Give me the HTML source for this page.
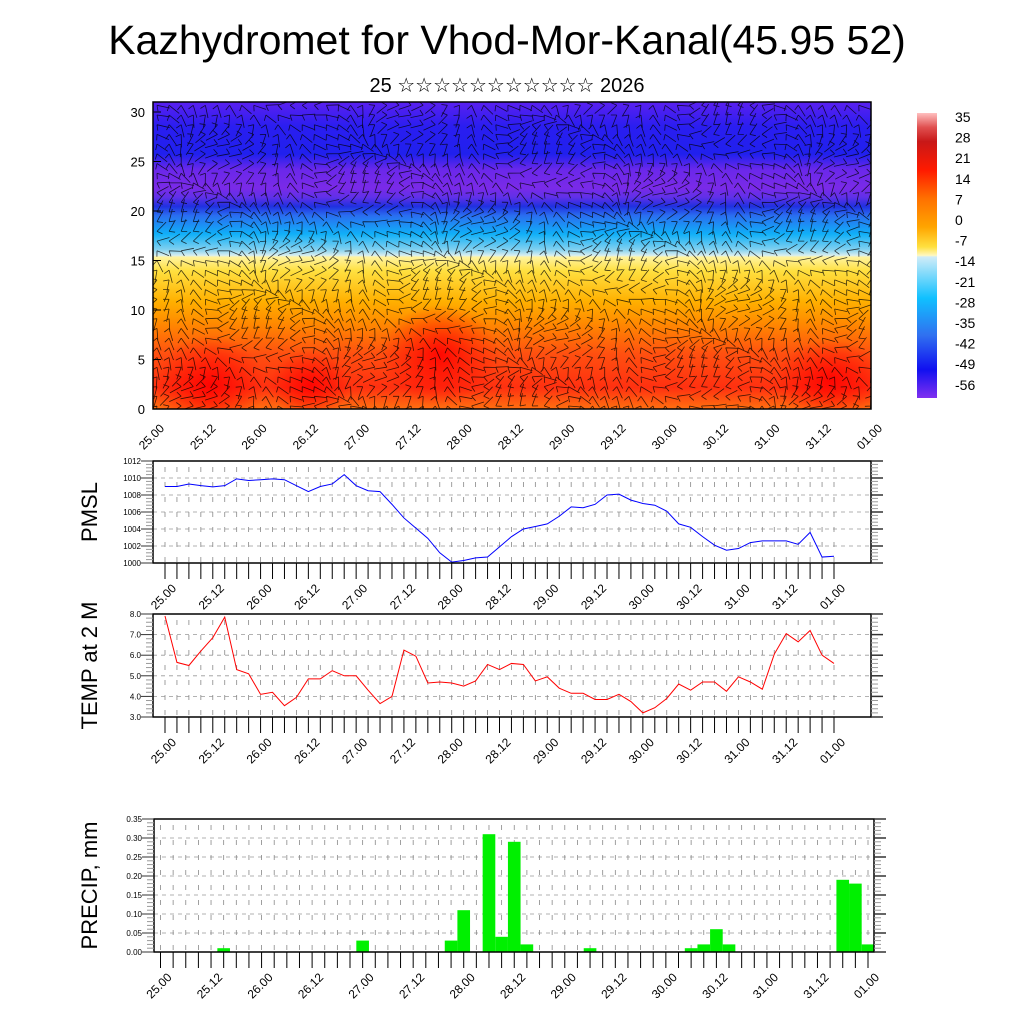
<!DOCTYPE html>
<html><head><meta charset="utf-8">
<style>
html,body{margin:0;padding:0;background:#fff;}
svg{display:block;font-family:"Liberation Sans","DejaVu Sans",sans-serif;}
</style></head>
<body>
<svg id="chart" width="1024" height="1024" viewBox="0 0 1024 1024" xmlns="http://www.w3.org/2000/svg">
<defs>
<linearGradient id="tgrad" x1="0" y1="0" x2="0" y2="1">
<stop offset="0" stop-color="#5a20f0"/>
<stop offset="0.08" stop-color="#2a1ef0"/>
<stop offset="0.17" stop-color="#2020ee"/>
<stop offset="0.22" stop-color="#6a28ea"/>
<stop offset="0.28" stop-color="#7a2ae8"/>
<stop offset="0.31" stop-color="#6030e8"/>
<stop offset="0.34" stop-color="#2030e0"/>
<stop offset="0.37" stop-color="#2a6ef0"/>
<stop offset="0.43" stop-color="#10b0f8"/>
<stop offset="0.48" stop-color="#80d0f0"/>
<stop offset="0.5" stop-color="#d8eef0"/>
<stop offset="0.505" stop-color="#fff4a0"/>
<stop offset="0.55" stop-color="#ffe040"/>
<stop offset="0.65" stop-color="#ffb000"/>
<stop offset="0.72" stop-color="#ff8a00"/>
<stop offset="0.82" stop-color="#ff5010"/>
<stop offset="0.93" stop-color="#ff3010"/>
<stop offset="1" stop-color="#ff7010"/>
</linearGradient>
<linearGradient id="cbgrad" x1="0" y1="0" x2="0" y2="1">
<stop offset="0" stop-color="#ffc0c0"/>
<stop offset="0.05" stop-color="#e05050"/>
<stop offset="0.1" stop-color="#c81818"/>
<stop offset="0.2" stop-color="#ff1a00"/>
<stop offset="0.3" stop-color="#ff7000"/>
<stop offset="0.4" stop-color="#ffa500"/>
<stop offset="0.47" stop-color="#ffe040"/>
<stop offset="0.5" stop-color="#fff8c0"/>
<stop offset="0.505" stop-color="#d0ecf8"/>
<stop offset="0.65" stop-color="#10c0ff"/>
<stop offset="0.78" stop-color="#3070f0"/>
<stop offset="0.9" stop-color="#1010f0"/>
<stop offset="1" stop-color="#8030f0"/>
</linearGradient>
<radialGradient id="hot"><stop offset="0" stop-color="#ff0000" stop-opacity="0.9"/><stop offset="1" stop-color="#ff0000" stop-opacity="0"/></radialGradient>
<clipPath id="topclip"><rect x="153" y="102" width="718" height="307"/></clipPath>
</defs>
<text x="507" y="54" font-size="41" text-anchor="middle">Kazhydromet for Vhod-Mor-Kanal(45.95 52)</text>
<text x="507" y="92" font-size="20" text-anchor="middle">25 ☆☆☆☆☆☆☆☆☆☆☆ 2026</text>
<g id="topPanel"></g>
<g id="cb"></g>
<g id="pmsl"></g>
<g id="temp"></g>
<g id="precip"></g>
</svg>
<script>
const NS="http://www.w3.org/2000/svg";
const tickLabels=["25.00","25.12","26.00","26.12","27.00","27.12","28.00","28.12","29.00","29.12","30.00","30.12","31.00","31.12","01.00"];
const pmslValues=[1009.0,1009.0,1009.3,1009.1,1008.95,1009.1,1009.9,1009.7,1009.8,1009.9,1009.8,1009.1,1008.4,1009.0,1009.3,1010.4,1009.1,1008.5,1008.4,1006.9,1005.3,1004.1,1002.9,1001.2,1000.1,1000.3,1000.6,1000.7,1001.9,1003.1,1004.0,1004.3,1004.6,1005.5,1006.6,1006.5,1006.9,1008.0,1008.1,1007.4,1007.0,1006.8,1006.1,1004.6,1004.2,1003.1,1002.1,1001.5,1001.7,1002.4,1002.6,1002.6,1002.6,1002.2,1003.6,1000.7,1000.8];
const tempValues=[7.9,5.65,5.5,6.2,6.85,7.85,5.3,5.1,4.1,4.2,3.55,3.95,4.85,4.85,5.25,5.0,5.0,4.3,3.65,4.0,6.25,5.95,4.65,4.7,4.65,4.5,4.75,5.55,5.3,5.6,5.55,4.75,4.95,4.4,4.15,4.15,3.85,3.85,4.1,3.75,3.2,3.45,3.9,4.6,4.3,4.7,4.7,4.25,4.95,4.7,4.35,6.05,7.05,6.65,7.2,6.0,5.6];
const precipValues=[0,0,0,0,0,0.01,0,0,0,0,0,0,0,0,0,0,0.03,0,0,0,0,0,0,0.03,0.11,0,0.31,0.04,0.29,0.02,0,0,0,0,0.01,0,0,0,0,0,0,0,0.01,0.02,0.06,0.02,0,0,0,0,0,0,0,0,0.19,0.18,0.02];
const pmslTicks=[1000,1002,1004,1006,1008,1010,1012];
const tempTicks=[3,4,5,6,7,8];
const precipTicks=[0,0.05,0.10,0.15,0.20,0.25,0.30,0.35];
const heightTicks=[0,5,10,15,20,25,30];
const cbLabels=["35","28","21","14","7","0","-7","-14","-21","-28","-35","-42","-49","-56"];

function el(tag,attrs,parent){const e=document.createElementNS(NS,tag);for(const k in attrs)e.setAttribute(k,attrs[k]);if(parent)parent.appendChild(e);return e;}

/* ---- top cross-section ---- */
const topG=document.getElementById('topPanel');
const T={l:153,r:871,t:102,b:409};
const hy=v=>409-v*9.9;
let bg=el('rect',{x:T.l,y:T.t,width:T.r-T.l,height:T.b-T.t,fill:'url(#tgrad)'},topG);


const cg=el('g',{'clip-path':'url(#topclip)'},topG);
[[210,385,55,50],[310,385,40,35],[440,355,60,50],[830,380,55,40]].forEach(b=>{el('ellipse',{cx:b[0],cy:b[1],rx:b[2],ry:b[3],fill:'url(#hot)'},cg);});
let d="";
for(let i=0;i<60;i++){for(let j=0;j<32;j++){
 const x=T.l+4+i*12.1, y=T.b-3-j*9.7;
 const a=Math.sin(i*0.37+j*0.21)*1.3+Math.cos(j*0.5-i*0.11)*0.9+0.8;
 const L=13;
 d+=`M${x.toFixed(1)} ${y.toFixed(1)}l${(L*Math.cos(a)).toFixed(1)} ${(L*Math.sin(a)).toFixed(1)}`;
 const b=a+1.2; d+=`M${x.toFixed(1)} ${y.toFixed(1)}l${(6*Math.cos(b)).toFixed(1)} ${(6*Math.sin(b)).toFixed(1)}`;
}}
let wp=el('path',{d:d,stroke:'#000','stroke-width':0.8,'stroke-opacity':0.75,fill:'none'},cg);


el('rect',{x:T.l,y:T.t,width:T.r-T.l,height:T.b-T.t,fill:'none',stroke:'#000','stroke-width':1.5},topG);
heightTicks.forEach(v=>{
 el('line',{x1:T.l,x2:T.l+8,y1:hy(v),y2:hy(v),stroke:'#000'},topG);
 const t=el('text',{x:T.l-8,y:hy(v)+5,'font-size':13,'text-anchor':'end'},topG);t.textContent=v;
 
 
});
tickLabels.forEach((s,k)=>{
 const x=T.l+k*(T.r-T.l)/14;
 const t=el('text',{x:0,y:0,'font-size':12,'text-anchor':'end',transform:`translate(${x+12},${T.b+20}) rotate(-45)`},topG);t.textContent=s;
 
 
});

/* ---- colorbar ---- */
const cb=document.getElementById('cb');
el('rect',{x:917,y:113,width:20,height:285,fill:'url(#cbgrad)'},cb);
cbLabels.forEach((s,k)=>{const t=el('text',{x:955,y:122+k*20.6,'font-size':14},cb);t.textContent=s;
 
 });

/* ---- line/bar panels ---- */
function panel(g,P,ticks,title,titleX){
 const n=57, xs=i=>P.x0+i*(P.x1-P.x0)/(n-1), ys=v=>P.b-(v-P.min)/(P.max-P.min)*(P.b-P.t);
 ticks.forEach(v=>{el('line',{x1:P.l,x2:P.r,y1:ys(v),y2:ys(v),stroke:'#999','stroke-dasharray':'4,4','stroke-width':0.8},g);});
 for(let i=0;i<n;i++){el('line',{x1:xs(i),x2:xs(i),y1:P.t+6,y2:P.b,stroke:'#888','stroke-dasharray':'5,10','stroke-width':0.8},g);}
 const yt=el('text',{x:0,y:0,'font-size':22,'text-anchor':'middle',transform:`translate(${titleX},${(P.t+P.b)/2}) rotate(-90)`},g);yt.textContent=title;
 
 
 return {xs,ys};
}
function frame(g,P,ticks,fmt){
 const ys=v=>P.b-(v-P.min)/(P.max-P.min)*(P.b-P.t);
 el('rect',{x:P.l,y:P.t,width:P.r-P.l,height:P.b-P.t,fill:'none',stroke:'#000','stroke-width':1.5},g);
 const major=ticks[1]-ticks[0], step=major/5;
 for(let k=0;k<=Math.round((P.max-P.min)/step);k++){const v=P.min+k*step;const maj=(k%5===0);
  el('line',{x1:P.l-(maj?12:7),x2:P.l,y1:ys(v),y2:ys(v),stroke:maj?'#333':'#999'},g);
  el('line',{x1:P.r,x2:P.r+(maj?12:7),y1:ys(v),y2:ys(v),stroke:maj?'#333':'#999','stroke-width':maj?1.5:1},g);}
 ticks.forEach(v=>{const t=el('text',{x:P.l-12,y:ys(v)+3,'font-size':8,'text-anchor':'end'},g);t.textContent=fmt(v);
  
  });
 const n=57;
 for(let i=0;i<n;i++){const x=P.x0+i*(P.x1-P.x0)/(n-1);el('line',{x1:x,x2:x,y1:P.b,y2:P.b+16,stroke:'#000'},g);}
 tickLabels.forEach((s,k)=>{const x=P.x0+k*4*(P.x1-P.x0)/(n-1);
  const t=el('text',{x:0,y:0,'font-size':12,'text-anchor':'end',transform:`translate(${x+12},${P.b+26}) rotate(-45)`},g);t.textContent=s;
  
  });
}
// PMSL
const gp=document.getElementById('pmsl');
const PP={l:153,r:871,t:461,b:563,x0:165,x1:834,min:1000,max:1012};
let ax=panel(gp,PP,pmslTicks,'PMSL',97);
let pl=el('polyline',{points:pmslValues.map((v,i)=>ax.xs(i)+','+ax.ys(v)).join(' '),fill:'none',stroke:'#0000ff','stroke-width':1},gp);


frame(gp,PP,pmslTicks,v=>v.toString());
// TEMP
const gt=document.getElementById('temp');
const TP={l:153,r:871,t:614,b:717,x0:165,x1:834,min:3,max:8};
ax=panel(gt,TP,tempTicks,'TEMP at 2 M',97);
pl=el('polyline',{points:tempValues.map((v,i)=>ax.xs(i)+','+ax.ys(v)).join(' '),fill:'none',stroke:'#ff0000','stroke-width':1},gt);


frame(gt,TP,tempTicks,v=>v.toFixed(1));
// PRECIP
const gr=document.getElementById('precip');
const RP={l:154,r:874,t:819,b:952,x0:160.5,x1:868,min:0,max:0.35};
ax=panel(gr,RP,precipTicks,'PRECIP, mm',97);
const bw=(RP.x1-RP.x0)/56;
precipValues.forEach((v,i)=>{ if(v<=0) return;
 const r=el('rect',{x:ax.xs(i)-bw/2,y:ax.ys(v),width:bw,height:RP.b-ax.ys(v),fill:'#00f000'},gr);
 
 
});
frame(gr,RP,precipTicks,v=>v.toFixed(2));
</script>
</body></html>
